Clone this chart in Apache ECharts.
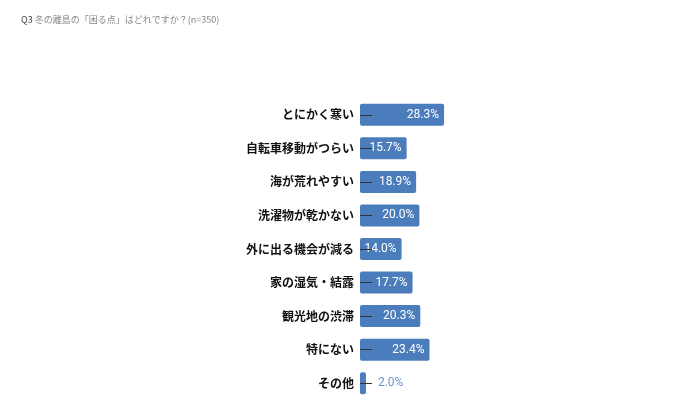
<!DOCTYPE html>
<html><head><meta charset="utf-8">
<script src="https://cdn.jsdelivr.net/npm/echarts@6/dist/echarts.min.js"></script>
<style>html,body{margin:0;padding:0;background:#fff}#c{width:700px;height:420px}</style>
</head><body><div id="c"></div>
<script>
const categories = ['とにかく寒い','自転車移動がつらい','海が荒れやすい','洗濯物が乾かない','外に出る機会が減る','家の湿気・結露','観光地の渋滞','特にない','その他'];
const values = [28.3, 15.7, 18.9, 20.0, 14.0, 17.7, 20.3, 23.4, 2.0];
const outsideLabelIndex = [8];

const chart = echarts.init(document.getElementById('c'));
chart.setOption({
  animation: false,
  title: {
    text: '{q|Q3} 冬の離島の「困る点」はどれですか？(n=350)',
    left: 16, top: 10,
    textStyle: { fontSize: 9, color: '#888', fontWeight: 'normal', fontFamily: 'Noto Sans CJK JP',
      rich: { q: { fontSize: 9, color: '#444', fontFamily: 'Noto Sans CJK JP' } } }
  },
  grid: { left: 360, right: 43, top: 98, bottom: 20, containLabel: false },
  xAxis: { type: 'value', min: 0, max: 100, show: false },
  yAxis: {
    type: 'category', inverse: true, data: categories, z: 10,
    axisLine: { show: false },
    axisTick: { show: true, inside: true, length: 12, alignWithLabel: true, lineStyle: { color: '#333', width: 1 } },
    axisLabel: { color: '#111', fontWeight: 'bold', fontSize: 12, margin: 6, fontFamily: 'Noto Sans CJK JP' }
  },
  series: [{
    type: 'bar', barWidth: 22,
    itemStyle: { color: '#4b7dbc', borderRadius: 2 },
    label: { show: true, position: 'insideRight', distance: 5, color: '#fff', fontSize: 12, fontFamily: 'Roboto',
      formatter: p => p.value.toFixed(1) + '%' },
    data: values.map((v, i) => outsideLabelIndex.includes(i)
      ? { value: v, label: { position: 'right', distance: 12, color: '#6f96cc' } }
      : v)
  }]
});
</script></body></html>
